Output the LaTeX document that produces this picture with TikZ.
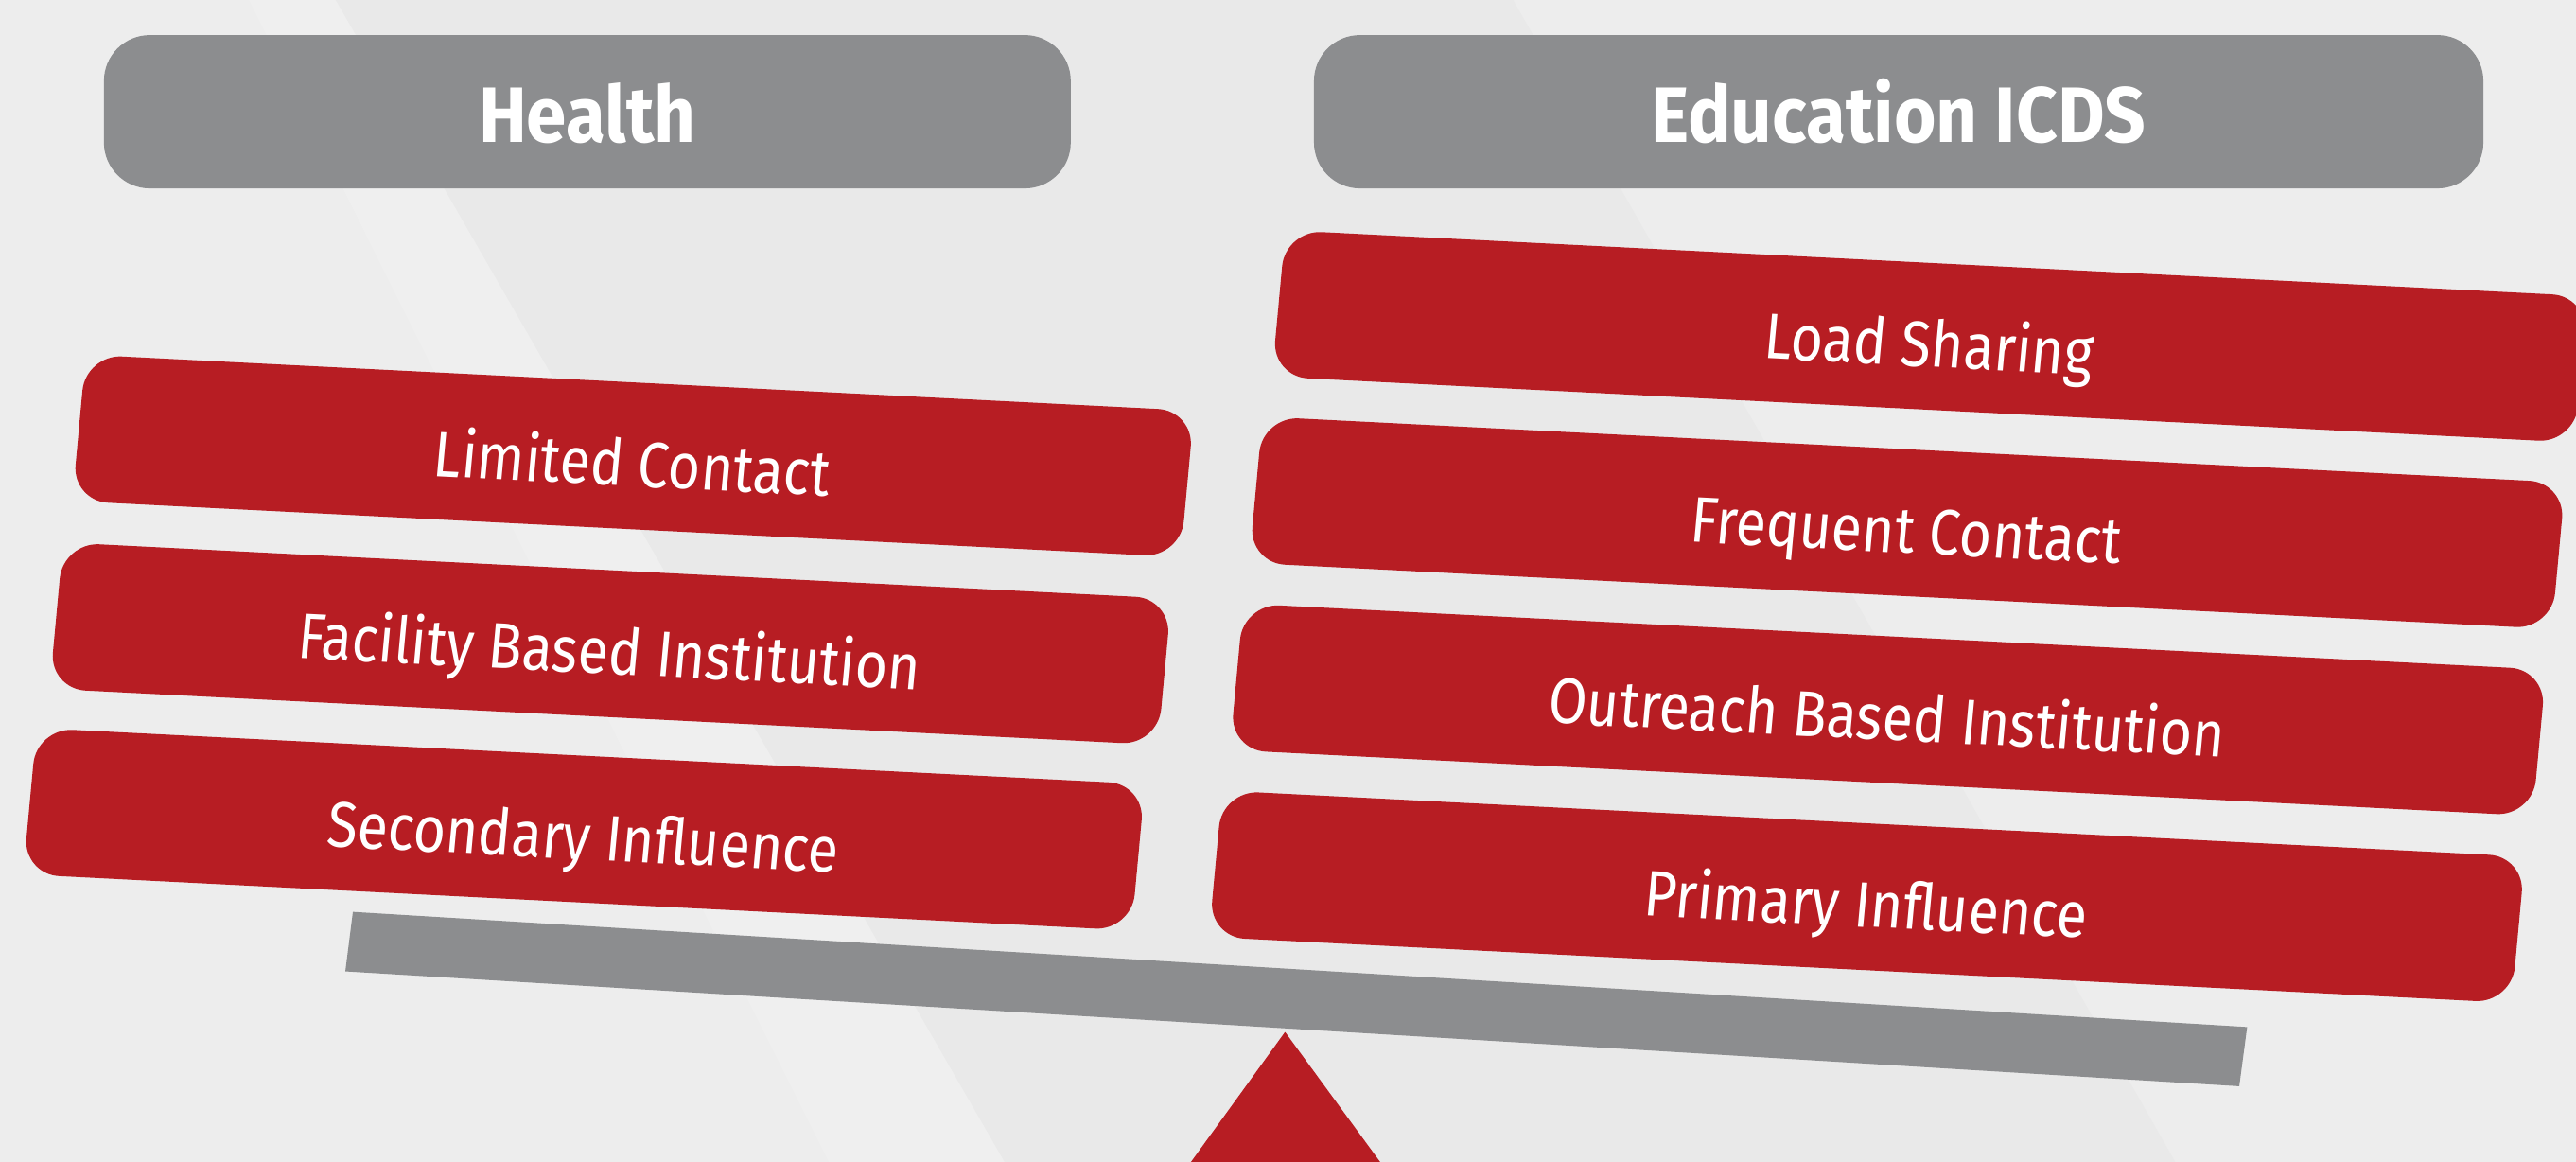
\documentclass[tikz,border=0pt]{standalone}
\usepackage{fontspec}
\setmainfont{Fira Sans}
\newfontfamily\tilefont{Fira Sans}[FakeStretch=0.865]
\newfontfamily\hdrfont{Fira Sans}[FakeStretch=0.92]
\definecolor{boxred}{RGB}{183,29,35}
\definecolor{hdrgray}{RGB}{140,141,143}
\definecolor{bgbase}{RGB}{237,237,237}
\definecolor{bgdark}{RGB}{233,233,233}
\definecolor{bglight}{RGB}{239,239,239}
\tikzset{
  hdr/.style={fill=hdrgray, rounded corners=14pt, minimum height=46.65pt, inner sep=0pt,
    text=white, font=\hdrfont\fontsize{23.9}{26}\selectfont\bfseries, text height=18.8pt, text depth=0pt},
  tilebox/.style={fill=boxred, rounded corners=11pt, minimum height=44.65pt, inner sep=0pt,
    text=white, font=\tilefont\fontsize{19.6}{22}\selectfont, text height=18.5pt, text depth=0pt,
    rotate=-2.9, xslant=0.042},
  lefttile/.style={tilebox, minimum width=337.75pt},
  righttile/.style={tilebox, minimum width=397pt},
}
\begin{document}
\begin{tikzpicture}[x=0.5pt, y=-0.5pt]
\useasboundingbox (0,0) rectangle (1568,707);
\clip (0,0) rectangle (1568,707);
% background
\fill[bgbase] (0,0) rectangle (1568,707);
\fill[bglight] (151.4,0) -- (204.4,0) -- (611.5,707) -- (504.4,707) -- cycle;
\fill[bgdark] (204.4,0) -- (921,0) -- (1324,707) -- (611.5,707) -- cycle;
% headers
\node[hdr, minimum width=294.25pt] (health) at (357.5,68) {Health};
\node[hdr, minimum width=355.9pt] (edu) at (1155.7,68) {Education ICDS};
% left tiles
\node[lefttile] (lc)  at (385.4,277.4) {Limited Contact};
\node[lefttile] (fbi) at (371.6,391.7) {Facility Based Institution};
\node[lefttile] (si)  at (355.5,504.6) {Secondary Influence};
% right tiles
\node[righttile] (ls)  at (1174.8,204.7) {Load Sharing};
\node[righttile] (fc)  at (1160.9,318.1) {Frequent Contact};
\node[righttile] (obi) at (1149.2,431.9) {Outreach Based Institution};
\node[righttile] (pi)  at (1136.4,545.7) {Primary Influence};
% fulcrum
\coordinate (apex) at (782.2,628);
\coordinate (fl) at (715.6,720);
\coordinate (fr) at (849.5,720);
\fill[boxred] (apex) -- (fr) -- (fl) -- cycle;
% beam
\coordinate (bTL) at (214.8,554.9);
\coordinate (bTR) at (1367.8,625);
\coordinate (bBR) at (1363,661);
\coordinate (bBL) at (210.2,591.1);
\fill[hdrgray] (bTL) -- (bTR) -- (bBR) -- (bBL) -- cycle;
\end{tikzpicture}
\end{document}
